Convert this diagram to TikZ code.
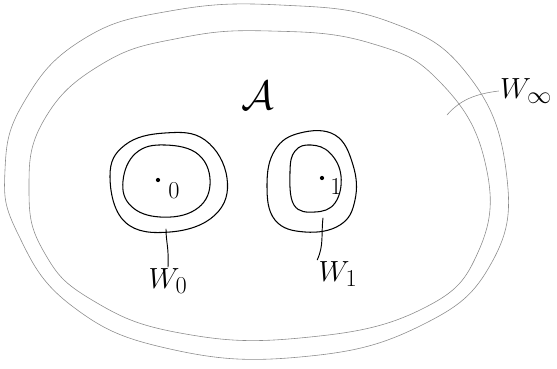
\documentclass[tikz,border=0pt]{standalone}
\usetikzlibrary{positioning}
\begin{document}
\begin{tikzpicture}[x=0.03cm,y=-0.03cm,line cap=round,line join=round,
  region/.style={line width=0.5pt,draw=black!45},
  ring/.style={line width=0.9pt,draw=black},
  stalk/.style={line width=0.8pt,draw=black},
  lbl/.style={font=\Huge,inner sep=1pt}]
  \useasboundingbox (0,0) rectangle (557,369);
  % the big region and its boundary annulus
  \draw[region] plot[smooth cycle,tension=0.75] coordinates {(24,102) (82,40) (170,11) (280,5) (390,22) (468,75) (506,170) (492,262) (420,326) (300,357) (170,349) (72,306) (18,234) (5,170)};
  \draw[region] plot[smooth cycle,tension=0.75] coordinates {(44,120) (102,64) (180,38) (270,31) (370,43) (440,82) (485,162) (479,250) (420,310) (300,338) (180,333) (92,300) (44,252) (29,190)};
  % the two small discs
  \draw[ring] plot[smooth cycle,tension=0.7] coordinates {(110,176) (125,145) (165,133) (205,140) (227,178) (215,215) (170,232) (125,222)};
  \draw[ring] plot[smooth cycle,tension=0.7] coordinates {(123,181) (136,153) (165,145) (199,155) (210,185) (195,210) (160,217) (131,206)};
  \draw[ring] plot[smooth cycle,tension=0.7] coordinates {(267,185) (275,150) (300,133) (335,135) (353,165) (355,200) (340,225) (305,232) (275,220)};
  \draw[ring] plot[smooth cycle,tension=0.7] coordinates {(290,172) (295,151) (311,145) (330,153) (341,176) (335,203) (315,212) (294,205)};
  % points
  \fill (158,180) circle (1.8pt);
  \fill (322,178) circle (1.8pt);
  \node[lbl,font=\huge] (zero) at (174,191) {$0$};
  \node[lbl,font=\huge] (one) at (336,187) {$1$};
  % labels
  \node[lbl,scale=1.4] (calA) at (258,96) {$\mathcal{A}$};
  \node[lbl] (w0) at (168,281) {$W_0$};
  \node[lbl] (w1) at (338,274) {$W_1$};
  \node[lbl] (winf) at (526,91) {$W_\infty$};
  \coordinate (f0) at (166,229);
  \coordinate (f1) at (323,218);
  \coordinate (finf) at (447,115);
  \draw[stalk] (f0) .. controls (166,242) and (169,248) .. (w0.north);
  \draw[stalk] (f1) .. controls (321,235) and (324,245) .. (w1.north west);
  \draw[line width=0.5pt,draw=black!45] (finf) .. controls (460,100) and (475,94) .. (winf.west);
\end{tikzpicture}
\end{document}
